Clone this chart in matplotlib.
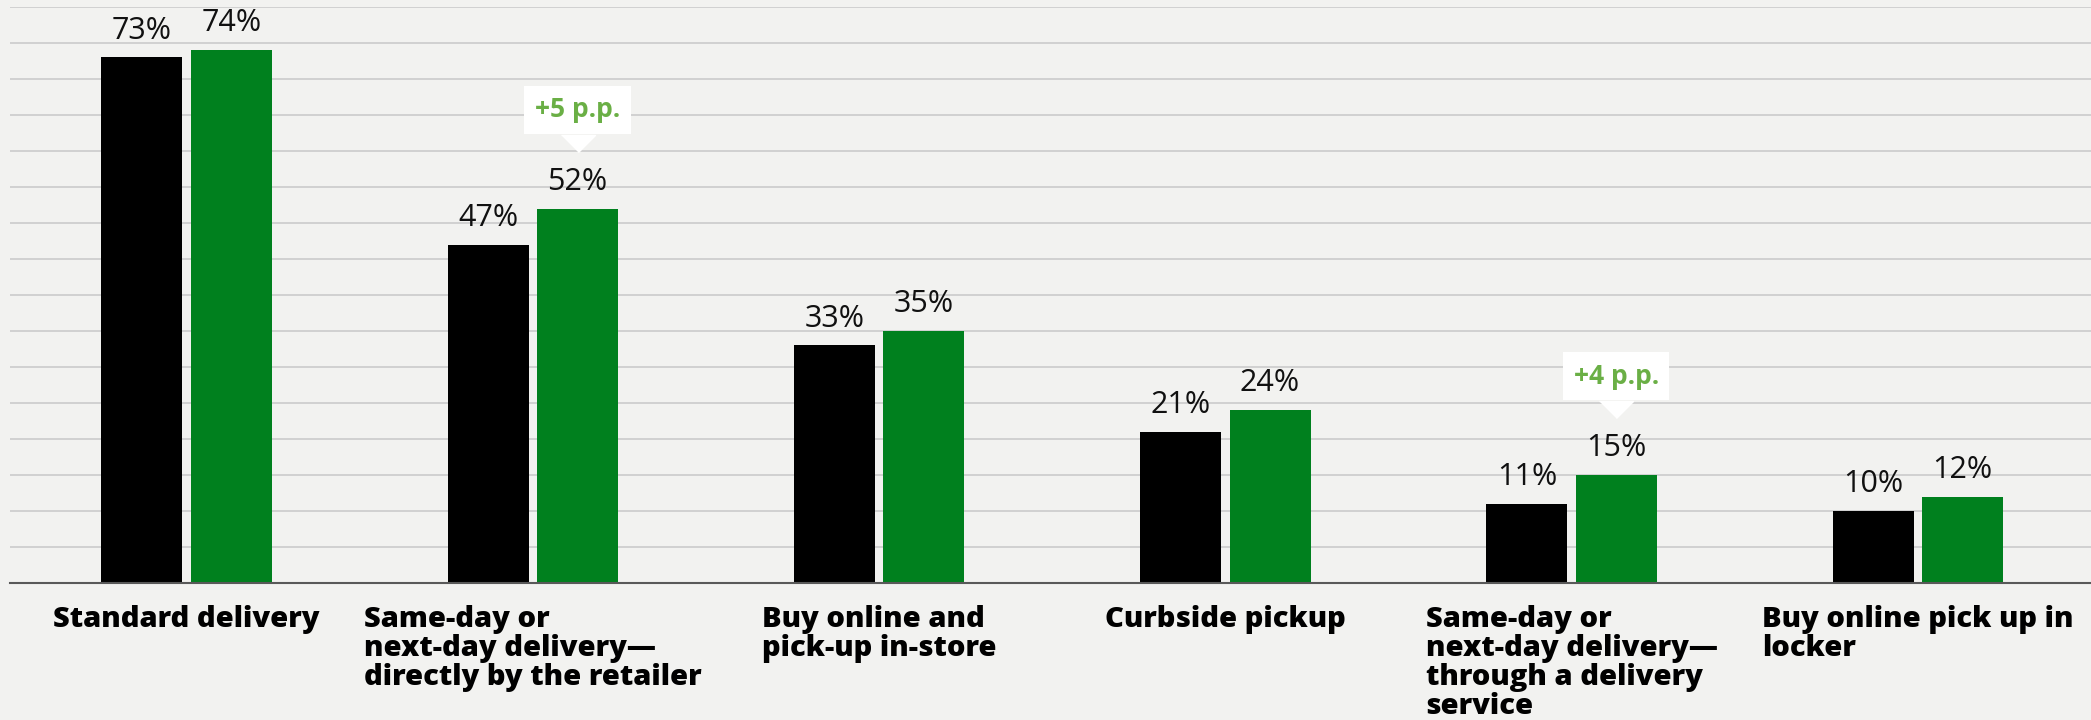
import numpy as np
import matplotlib.pyplot as plt
from matplotlib.transforms import offset_copy

# options de livraison et pourcentages
categories = ["Standard delivery",
              "Same-day or\nnext-day delivery—\ndirectly by the retailer",
              "Buy online and\npick-up in-store",
              "Curbside pickup",
              "Same-day or\nnext-day delivery—\nthrough a delivery\nservice",
              "Buy online pick up in\nlocker"]
before = [73, 47, 33, 21, 11, 10]
after = [74, 52, 35, 24, 15, 12]
callouts = {1: "+5 p.p.", 4: "+4 p.p."}

bg = '#f2f2f0'
green = '#00801e'
light_green = '#6aaf45'

fig = plt.figure(figsize=(20.91, 7.2), dpi=100, facecolor=bg)
ax = fig.add_axes([10/2091, 1 - 583/720, 2081/2091, 576/720], facecolor=bg)

x = np.arange(len(categories))
w = 0.234
d = 0.129

b1 = ax.bar(x - d, before, w, color='black', zorder=3)
b2 = ax.bar(x + d, after, w, color=green, zorder=3)

# etiquettes de valeur
for bars, vals in [(b1, before), (b2, after)]:
    for rect, v in zip(bars, vals):
        ax.annotate(f"{v}%", (rect.get_x() + rect.get_width()/2, v),
                    xytext=(0, 13.5), textcoords='offset points',
                    ha='center', va='baseline', fontsize=22,
                    family='Open Sans', color='#111111')

# bulles "+x p.p." au-dessus des barres vertes
for i, txt in callouts.items():
    xi = x[i] + d
    yi = after[i]
    ax.annotate(txt, (xi, yi), xytext=(0, 71), textcoords='offset points',
                ha='center', va='center', fontsize=19, fontweight='bold',
                family='Open Sans', color=light_green, zorder=5,
                bbox=dict(boxstyle='square,pad=0.4', fc='white', ec='none'))
    tri = offset_copy(ax.transData, fig=fig, x=0, y=53, units='points')
    ax.plot([xi], [yi], marker=[(-1, 0), (1, 0), (0, -1)], markersize=24.5,
            color='white', transform=tri, zorder=5, clip_on=False)

ax.set_xlim(-0.51, 5.5)
ax.set_ylim(0, 80)
ax.set_yticks(np.arange(0, 81, 5))
ax.yaxis.grid(True, color='#c8c8c8', linewidth=1.1, zorder=0)
ax.set_axisbelow(True)
ax.tick_params(axis='y', left=False, labelleft=False)
ax.tick_params(axis='x', length=0, pad=16)

ax.set_xticks(x)
ax.set_xticklabels(categories, fontsize=21, fontweight='heavy', family='Open Sans',
                   ha='center', multialignment='left', linespacing=1.0, va='top')

for s in ['top', 'left', 'right']:
    ax.spines[s].set_visible(False)
ax.spines['bottom'].set_color('#595959')
ax.spines['bottom'].set_linewidth(1.5)
ax.spines['bottom'].set_zorder(4)

plt.savefig('out.png', dpi=100, facecolor=bg)
